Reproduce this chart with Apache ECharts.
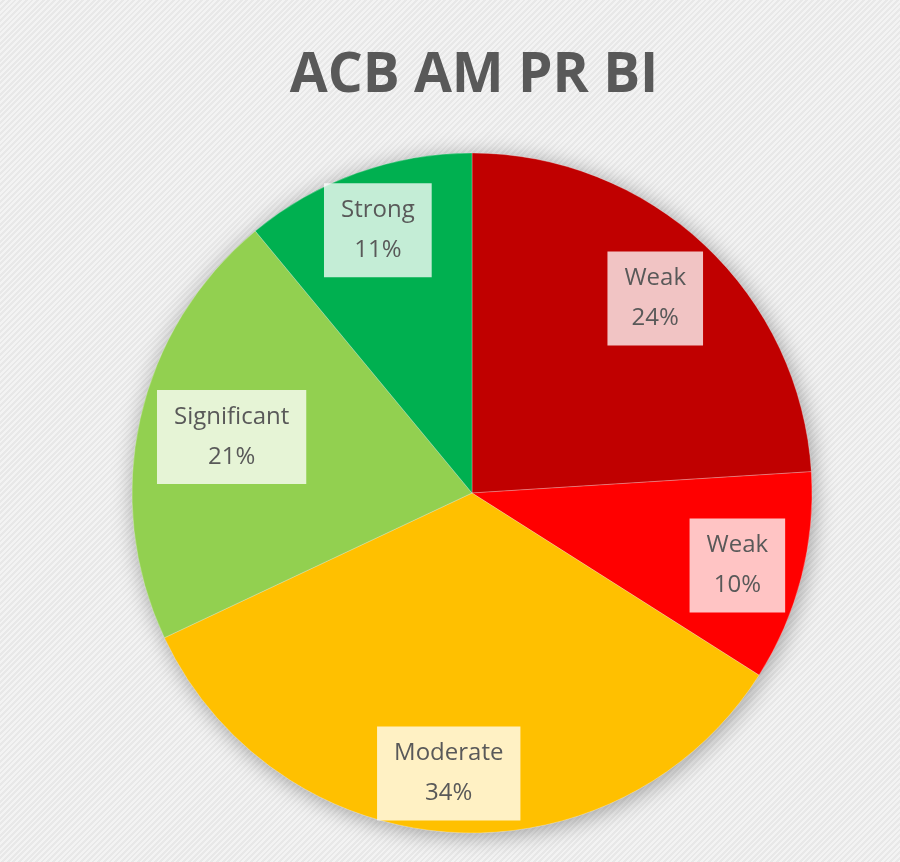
<!DOCTYPE html>
<html>
<head>
<meta charset="utf-8">
<script src="https://cdn.jsdelivr.net/npm/echarts@6/dist/echarts.min.js"></script>
<style>
  html, body { margin: 0; padding: 0; }
  body {
    width: 900px; height: 862px;
    background: repeating-linear-gradient(-45deg, #f3f3f3 0px, #f3f3f3 2px, #e8e8e8 2px, #e8e8e8 4px);
  }
  #chart { width: 900px; height: 862px; }
</style>
</head>
<body>
<div id="chart"></div>
<script>
const titleText = 'ACB AM PR BI';
const categories = ['Weak', 'Weak', 'Moderate', 'Significant', 'Strong'];
const values = [24, 10, 34, 21, 11];
const colors = ['#C00000', '#FF0000', '#FFC000', '#92D050', '#00B050'];

const chart = echarts.init(document.getElementById('chart'));
const center = [472, 493];
const R = 340;

const mainData = categories.map((c, i) => ({ name: c, value: values[i], itemStyle: { color: colors[i] } }));
const shadowData = categories.map((c, i) => ({ name: c, value: values[i] }));
// label boxes sit near the rim, like Excel callouts; the Significant box is pulled inward a little
const labelOffsets = [[-5, 6], [-1, 4], [-6, 6], [28, 4], [-1, -4]];
const labelData = categories.map((c, i) => ({ name: c, value: values[i], label: { offset: labelOffsets[i] } }));

chart.setOption({
  backgroundColor: 'transparent',
  title: {
    text: titleText,
    left: 469,
    textAlign: 'center',
    top: 44,
    textStyle: { fontFamily: 'Open Sans', fontWeight: 'bold', fontSize: 55, color: '#595959' }
  },
  series: [
    {
      type: 'pie', silent: true, z: 1,
      center: center, radius: R,
      label: { show: false }, labelLine: { show: false },
      itemStyle: { color: '#cccccc', shadowBlur: 22, shadowColor: 'rgba(0,0,0,0.35)', shadowOffsetX: 2, shadowOffsetY: 3 },
      data: shadowData
    },
    {
      type: 'pie', silent: true, z: 2,
      center: center, radius: R,
      label: { show: false }, labelLine: { show: false },
      itemStyle: { borderColor: 'rgba(255,255,255,0.25)', borderWidth: 1 },
      data: mainData
    },
    {
      type: 'pie', silent: true, z: 3,
      center: center, radius: [R * 0.6, R],
      itemStyle: { color: 'rgba(0,0,0,0)' },
      labelLine: { show: false },
      label: {
        show: true, position: 'inside',
        formatter: p => p.name + '\n' + p.value + '%',
        fontFamily: 'Open Sans', fontSize: 24, lineHeight: 40, color: '#595959',
        backgroundColor: 'rgba(255,255,255,0.77)',
        padding: [7, 17, 7, 17]
      },
      data: labelData
    }
  ]
});
</script>
</body>
</html>
